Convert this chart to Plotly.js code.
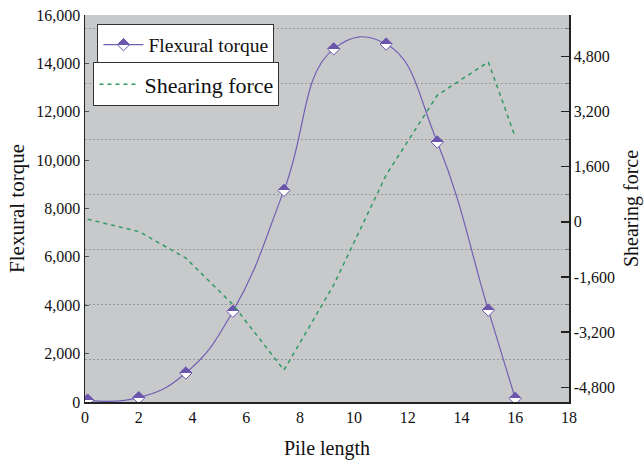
<!DOCTYPE html>
<html>
<head>
<meta charset="utf-8">
<script src="https://cdn.plot.ly/plotly-3.0.1.min.js"></script>
<style>html,body{margin:0;padding:0;background:#fff;}#chart{width:644px;height:461px;}</style>
</head>
<body>
<div id="chart"></div>
<script>
const pileLength = [0.1, 2.0, 3.75, 5.5, 7.4, 9.25, 11.2, 13.1, 15.0, 16.0];
const flexuralTorque = [80, 180, 1200, 3750, 8750, 14600, 14800, 10750, 3800, 150];
const shearingForce = [75, -280, -1050, -2400, -4300, -1830, 1360, 3670, 4640, 2460];

const xTicks = [0, 2, 4, 6, 8, 10, 12, 14, 16, 18];
const leftTickVals = [0, 2000, 4000, 6000, 8000, 10000, 12000, 14000, 16000];
const leftTickText = ['0', '2,000', '4,000', '6,000', '8,000', '10,000', '12,000', '14,000', '16,000'];
const rightTickVals = [-4800, -3200, -1600, 0, 1600, 3200, 4800];
const rightTickText = ['-4,800', '-3,200', '-1,600', '0', '1,600', '3,200', '4,800'];

const FONT = 'Liberation Serif';
const PURPLE = '#6b55ad';

const traces = [
  {
    x: pileLength, y: flexuralTorque, name: 'Flexural torque',
    type: 'scatter', mode: 'lines+markers',
    line: {color: '#7060b4', width: 1.2, shape: 'spline', smoothing: 1.3},
    marker: {symbol: 'diamond', size: 9.5, color: PURPLE,
             gradient: {type: 'vertical', color: '#ffffff'},
             line: {color: PURPLE, width: 1}},
    legend: 'legend'
  },
  {
    x: pileLength, y: shearingForce, name: 'Shearing force',
    type: 'scatter', mode: 'lines', yaxis: 'y2',
    line: {color: '#2f9a62', width: 1.5, dash: '4px,4px'},
    legend: 'legend2'
  }
];

const layout = {
  width: 644, height: 461,
  margin: {l: 84.5, r: 75, t: 14.5, b: 58.5},
  paper_bgcolor: '#ffffff',
  plot_bgcolor: '#c8c9cb',
  font: {family: FONT, size: 16, color: '#111'},
  showlegend: true,
  xaxis: {
    range: [0, 18], tickmode: 'array', tickvals: xTicks,
    showgrid: false, zeroline: false,
    showline: true, linecolor: '#222', linewidth: 1.5,
    ticks: '', tickfont: {family: FONT, size: 16, color: '#111'},
    title: {text: 'Pile length', font: {family: FONT, size: 20, color: '#111'}, standoff: 16}
  },
  yaxis: {
    range: [0, 16000], tickmode: 'array', tickvals: leftTickVals, ticktext: leftTickText,
    showgrid: false, zeroline: false,
    showline: true, linecolor: '#222', linewidth: 1.5,
    ticks: 'inside', ticklen: 4, tickcolor: '#555', tickwidth: 1,
    tickfont: {family: FONT, size: 16, color: '#111'},
    title: {text: 'Flexural torque', font: {family: FONT, size: 21, color: '#111'}, standoff: 6}
  },
  yaxis2: {
    overlaying: 'y', side: 'right',
    range: [-5225, 6000], tickmode: 'array', tickvals: rightTickVals, ticktext: rightTickText,
    showgrid: false, zeroline: false,
    showline: true, linecolor: '#222', linewidth: 1.5,
    ticks: 'inside', ticklen: 8, tickcolor: '#222', tickwidth: 1.5,
    minor: {tickmode: 'linear', tick0: 800, dtick: 1600, ticks: 'inside', ticklen: 4,
            tickcolor: '#777', tickwidth: 1, showgrid: true, gridcolor: '#9a9a9a',
            griddash: '2px,2px', gridwidth: 1},
    tickfont: {family: FONT, size: 16, color: '#111'},
    title: {text: 'Shearing force', font: {family: FONT, size: 20, color: '#111'}, standoff: 10}
  },
  legend: {
    x: 0.0258, y: 0.9755, xanchor: 'left', yanchor: 'top',
    bgcolor: '#ffffff', bordercolor: '#333', borderwidth: 1,
    font: {family: FONT, size: 19.5, color: '#111'},
    itemwidth: 40, tracegroupgap: 0
  },
  legend2: {
    x: 0.0175, y: 0.8776, xanchor: 'left', yanchor: 'top',
    bgcolor: '#ffffff', bordercolor: '#333', borderwidth: 1,
    font: {family: FONT, size: 22, color: '#111'},
    itemwidth: 40, tracegroupgap: 0
  }
};

Plotly.newPlot('chart', traces, layout, {displayModeBar: false, staticPlot: true}).then(function () {
  document.querySelectorAll('linearGradient stop').forEach(function (s) {
    s.setAttribute('offset', '50%');
  });
});
</script>
</body>
</html>
